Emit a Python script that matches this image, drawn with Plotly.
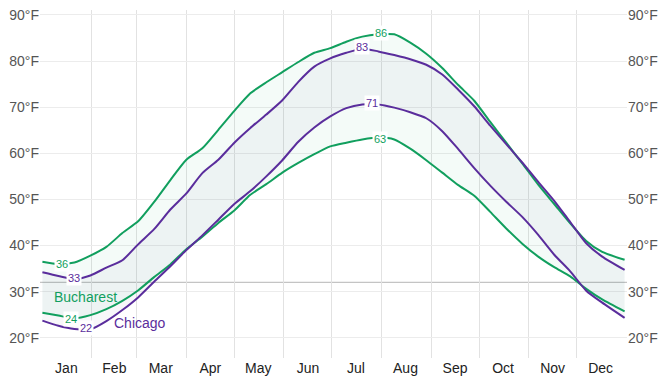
import plotly.graph_objects as go

# Day of year (0 = Jan 1)
DAYS = [0, 10, 20, 30, 40, 50, 60, 70, 80, 90, 100, 110, 120, 130, 140, 150, 160, 170, 180,
        190, 200, 210, 220, 230, 240, 250, 260, 270, 280, 290, 300, 310, 320, 330, 340, 350, 364]

BUCHAREST_HIGH = [36.5, 36.0, 36.3, 37.8, 39.7, 42.7, 45.3, 49.5, 54.2, 58.6, 61.1, 65.1, 69.2,
                  73.0, 75.4, 77.6, 79.8, 81.8, 82.8, 84.2, 85.3, 85.8, 85.8, 84.0, 81.6, 78.5,
                  74.8, 71.4, 66.8, 62.3, 57.8, 53.2, 49.0, 44.8, 41.0, 38.6, 36.9]
BUCHAREST_LOW = [25.4, 24.8, 24.2, 24.9, 26.2, 28.0, 30.3, 33.2, 35.9, 39.2, 41.9, 44.9, 47.6,
                 51.0, 53.3, 55.8, 57.9, 59.8, 61.5, 62.3, 63.0, 63.4, 63.0, 61.0, 58.5, 55.8,
                 53.1, 50.8, 47.3, 43.7, 40.4, 37.6, 35.3, 33.3, 30.6, 28.3, 25.7]
CHICAGO_HIGH = [34.2, 33.4, 32.7, 33.5, 35.2, 36.8, 40.3, 43.6, 47.8, 51.3, 55.7, 58.6, 62.3,
                65.5, 68.4, 71.5, 75.5, 78.8, 80.6, 81.8, 82.7, 82.1, 81.3, 80.4, 79.2, 77.1,
                73.8, 70.2, 66.0, 62.0, 58.0, 53.8, 49.7, 45.1, 40.5, 37.6, 34.7]
CHICAGO_LOW = [23.7, 22.6, 21.9, 21.8, 23.6, 26.0, 28.8, 32.2, 35.5, 39.0, 42.2, 45.6, 49.0,
               51.8, 55.0, 58.5, 62.5, 65.6, 68.0, 69.8, 70.6, 70.6, 69.9, 68.9, 67.6, 64.8,
               60.9, 56.8, 53.0, 49.5, 46.2, 42.3, 38.0, 34.4, 30.2, 27.6, 24.3]

# Extreme labels (day, value, series)
LABEL_DAYS = [12, 20, 18, 27, 212, 200, 206, 211]
LABEL_VALUES = [36, 33, 24, 22, 86, 83, 71, 63]
LABEL_SERIES = ["Bucharest", "Chicago", "Bucharest", "Chicago",
                "Bucharest", "Chicago", "Chicago", "Bucharest"]

MONTHS = ["Jan", "Feb", "Mar", "Apr", "May", "Jun", "Jul", "Aug", "Sep", "Oct", "Nov", "Dec"]
MONTH_MID = [15, 45, 74, 105, 135, 166, 196, 227, 258, 288, 319, 349]
MONTH_START = [31, 59, 90, 120, 151, 181, 212, 243, 273, 304, 334]
Y_TICKS = [20, 30, 40, 50, 60, 70, 80, 90]
FREEZING = 32

GREEN = "#119f5e"
PURPLE = "#5a2d9c"
COLORS = {"Bucharest": GREEN, "Chicago": PURPLE}
FONT = "Liberation Sans, Arial"
SPL = dict(shape="spline", smoothing=0.6)

fig = go.Figure()

# fills
fig.add_trace(go.Scatter(x=DAYS, y=BUCHAREST_LOW, mode="lines", line=dict(width=0, **SPL),
                         hoverinfo="skip", showlegend=False))
fig.add_trace(go.Scatter(x=DAYS, y=BUCHAREST_HIGH, mode="lines", line=dict(width=0, **SPL),
                         fill="tonexty", fillcolor="rgba(0,160,95,0.045)",
                         hoverinfo="skip", showlegend=False))
fig.add_trace(go.Scatter(x=DAYS, y=CHICAGO_LOW, mode="lines", line=dict(width=0, **SPL),
                         hoverinfo="skip", showlegend=False))
fig.add_trace(go.Scatter(x=DAYS, y=CHICAGO_HIGH, mode="lines", line=dict(width=0, **SPL),
                         fill="tonexty", fillcolor="rgba(70,60,120,0.04)",
                         hoverinfo="skip", showlegend=False))

# lines
for ys, c in [(BUCHAREST_HIGH, GREEN), (BUCHAREST_LOW, GREEN),
              (CHICAGO_HIGH, PURPLE), (CHICAGO_LOW, PURPLE)]:
    fig.add_trace(go.Scatter(x=DAYS, y=ys, mode="lines",
                             line=dict(color=c, width=2, **SPL),
                             showlegend=False))

# dummy trace for right axis
fig.add_trace(go.Scatter(x=[DAYS[0]], y=[Y_TICKS[0]], yaxis="y2", mode="markers",
                         marker=dict(opacity=0), showlegend=False, hoverinfo="skip"))

for d, v, s in zip(LABEL_DAYS, LABEL_VALUES, LABEL_SERIES):
    fig.add_annotation(x=d, y=v, text=str(v), showarrow=False, bgcolor="white",
                       borderpad=1, font=dict(size=11, color=COLORS[s], family=FONT))

fig.add_annotation(x=27, y=28.9, text="Bucharest", showarrow=False,
                   font=dict(size=14, color=GREEN, family=FONT))
fig.add_annotation(x=61, y=23.3, text="Chicago", showarrow=False,
                   font=dict(size=14, color=PURPLE, family=FONT))

fig.add_shape(type="line", xref="paper", x0=0, x1=1, y0=FREEZING, y1=FREEZING,
              line=dict(color="#c4c4c4", width=1.3), layer="below")

YR = [15.6, 91.08]
ylabels = [f"{t}°F" for t in Y_TICKS]
fig.update_layout(
    width=668, height=376,
    margin=dict(l=40, r=41, t=10, b=18, autoexpand=False),
    plot_bgcolor="white", paper_bgcolor="white",
    font=dict(family=FONT, size=14, color="#555"),
    xaxis=dict(range=[-1.5, 365.5], tickmode="array", tickvals=MONTH_MID, ticktext=MONTHS,
               showgrid=False, zeroline=False, showline=False, ticks="", automargin=False,
               tickfont=dict(size=14, color="#222"),
               minor=dict(tickmode="array", tickvals=MONTH_START, showgrid=True,
                          gridcolor="#e2e2e2", gridwidth=1, ticks="")),
    yaxis=dict(range=YR, tickmode="array", tickvals=Y_TICKS, ticktext=ylabels,
               showgrid=True, gridcolor="#ececec", gridwidth=1, zeroline=False,
               ticks="", automargin=False, tickfont=dict(size=14, color="#555")),
    yaxis2=dict(range=YR, overlaying="y", side="right", tickmode="array",
                tickvals=Y_TICKS, ticktext=ylabels, showgrid=False, zeroline=False,
                ticks="", automargin=False, tickfont=dict(size=14, color="#555")),
)

fig.write_html("out.html", config={"displayModeBar": False},
               post_script="document.body.style.margin='0';")
